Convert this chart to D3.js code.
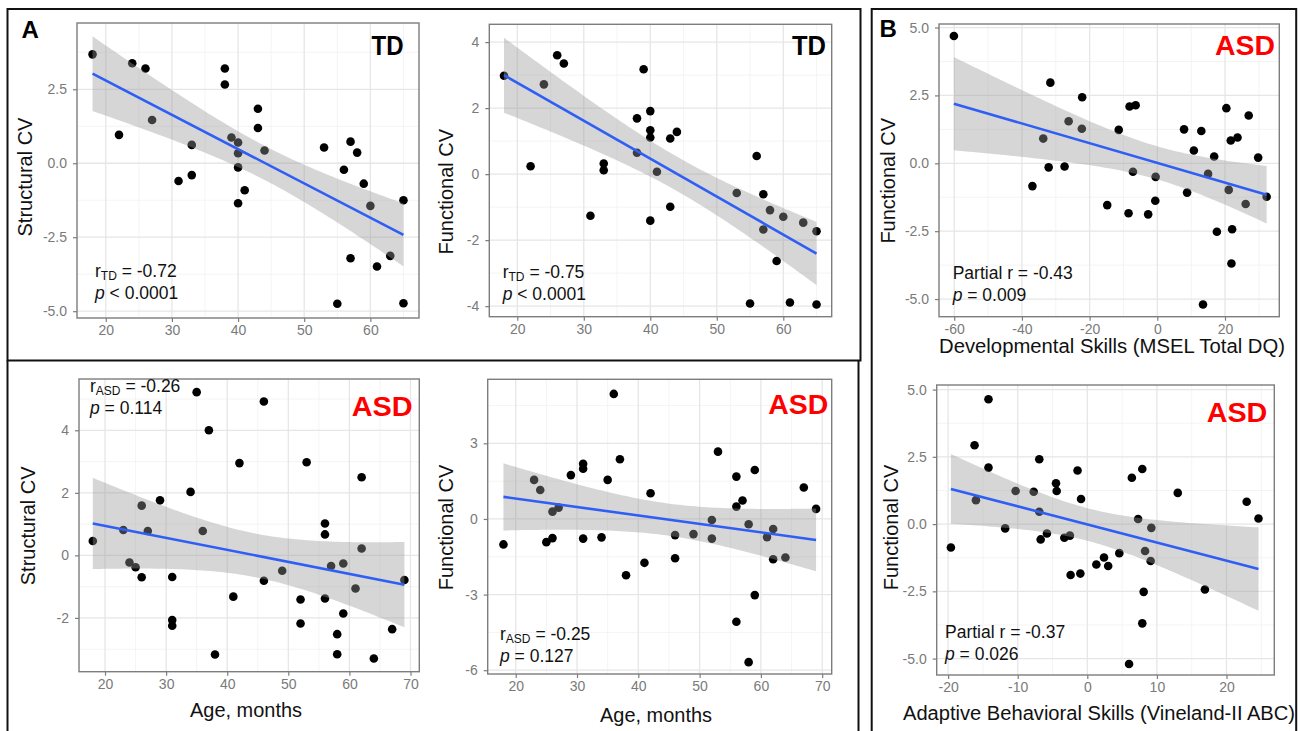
<!DOCTYPE html>
<html>
<head>
<meta charset="utf-8">
<script src="https://cdn.jsdelivr.net/npm/d3@7"></script>
<style>
  body { margin: 0; background: #fff; }
  svg { display: block; }
  text { font-family: "Liberation Sans", Arial, Helvetica, sans-serif; }
</style>
</head>
<body>
<div id="fig"></div>
<script>
// ---- data ----
// A, TD, structural CV vs age
const tdAgeS = [18,24,26,22,27,31,33,33,38,38,39,40,40,40,40,41,43,43,44,53,56,57,58,59,60,57,55,61,63,65,65];
const tdStructCV = [3.68,3.38,3.2,0.96,1.46,-0.6,0.62,-0.4,3.2,2.66,0.87,0.7,0.34,-0.14,-1.35,-0.91,1.84,1.19,0.43,0.53,-0.22,0.73,0.36,-0.69,-1.44,-3.21,-4.75,-3.49,-3.13,-1.25,-4.73];
// A, TD, functional CV vs age
const tdAgeF = [18,22,24,26,27,31,33,33,38,38,39,40,40,40,40,41,43,43,44,53,56,57,57,58,59,60,55,61,63,65,65];
const tdFuncCV = [2.98,0.24,2.72,3.6,3.35,-1.26,0.32,0.12,1.69,0.65,3.18,1.91,1.33,1.11,-1.41,0.07,1.08,-0.99,1.28,-0.57,0.55,-0.61,-1.68,-1.09,-2.63,-1.29,-3.92,-3.89,-1.47,-1.73,-3.95];
// A, ASD, structural CV vs age
const asdAgeS = [18,23,24,25,26,26,27,29,31,31,31,34,35,36,37,38,41,42,46,46,49,52,52,53,56,56,56,57,58,58,59,59,61,62,62,64,67,69];
const asdStructCV = [0.46,0.81,-0.23,-0.38,1.59,-0.7,0.78,1.76,-0.69,-2.07,-2.25,2.03,5.22,0.78,4.0,-3.17,-1.32,2.95,4.92,-0.81,-0.49,-1.41,-2.18,2.98,1.02,0.67,-1.38,-0.34,-2.52,-3.16,-0.26,-1.86,-1.06,2.5,0.22,-3.3,-2.36,-0.79];
// A, ASD, functional CV vs age
const asdAgeF = [18,23,24,25,26,26,27,29,31,31,31,34,35,36,37,38,41,42,46,46,49,52,52,53,56,56,57,58,56,58,59,59,61,62,62,64,67,69];
const asdFuncCV = [-1.01,1.55,1.15,-0.92,0.29,-0.76,0.45,1.74,2.19,1.99,-0.78,-0.73,1.55,4.96,2.37,-2.23,-1.74,1.02,-0.64,-1.56,-0.6,-0.04,-0.78,2.67,1.68,0.49,0.73,-0.21,-4.08,-5.68,1.94,-3.02,-0.72,-0.4,-1.6,-1.53,1.25,0.4];
// B, ASD, functional CV vs developmental skills (MSEL total DQ)
const mselDQ = [-60.1,-31.6,-33.7,-32.1,-36.9,-27.4,-26.2,-22.3,-22.2,-14.8,-11.4,-8.5,-8.2,-6.4,-7.2,-2.7,-0.6,-0.5,7.9,8.8,10.8,13.0,13.5,15.0,16.8,17.6,20.4,21.1,21.7,22.1,21.9,23.7,26.1,27.0,29.8,32.3];
const mselFuncCV = [4.69,2.97,0.91,-0.15,-0.84,-0.12,1.55,1.27,2.43,-1.54,1.23,-1.84,2.09,2.14,-0.31,-1.88,-1.38,-0.5,1.25,-1.08,0.47,1.19,-5.2,-0.39,0.25,-2.52,2.03,-0.98,0.84,-2.43,-3.69,0.95,-1.5,1.76,0.21,-1.23];
// B, ASD, functional CV vs adaptive behavioural skills (Vineland-II ABC)
const vinelandABC = [-19.6,-16.2,-16.0,-14.2,-14.2,-11.8,-10.3,-7.7,-6.9,-6.9,-6.7,-5.8,-4.5,-4.4,-3.3,-2.5,-2.4,-1.4,-1.0,-0.9,1.3,2.4,3.0,4.6,6.0,6.4,7.3,7.9,8.1,7.9,8.3,9.1,9.2,13.0,16.9,22.9,24.6];
const vinelandFuncCV = [-0.87,2.93,0.89,4.64,2.1,-0.16,1.23,1.2,2.41,0.46,-0.57,-0.35,1.52,1.23,-0.51,-0.43,-1.89,1.99,-1.84,0.93,-1.5,-1.24,-1.56,-1.08,-5.2,1.72,0.19,2.05,-2.52,-3.69,-1.0,-1.37,-0.14,1.16,-2.43,0.83,0.21];

// tick labels
const ageTicksTD = [20,30,40,50,60];
const ageTicksASD = [20,30,40,50,60,70];
const cvTicksHalf = [-5,-2.5,0,2.5];
const cvTicksTwo = [-4,-2,0,2,4];
const cvTicksASDs = [-2,0,2,4];
const cvTicksThree = [-6,-3,0,3];
const cvTicksFive = [-5,-2.5,0,2.5,5];
const dqTicks = [-60,-40,-20,0,20];
const abcTicks = [-20,-10,0,10,20];

const W = 1302, H = 731;
const svg = d3.select("#fig").append("svg").attr("width", W).attr("height", H);

// quantile of t distribution (Cornish-Fisher approximation, 97.5%)
function tq(df) { return 1.96 + 2.37 / df + 2.82 / (df * df); }

function lmFit(xs, ys) {
    const n = xs.length, mx = d3.mean(xs), my = d3.mean(ys);
    let sxx = 0, sxy = 0;
    xs.forEach((x, i) => { sxx += (x - mx) ** 2; sxy += (x - mx) * (ys[i] - my); });
    const b = sxy / sxx, a = my - b * mx;
    let sse = 0;
    xs.forEach((x, i) => { sse += (ys[i] - a - b * x) ** 2; });
    const s = Math.sqrt(sse / (n - 2)), t = tq(n - 2);
    return { pred: x => a + b * x, half: x => t * s * Math.sqrt(1 / n + (x - mx) ** 2 / sxx) };
}

function minorOf(ticks, dom) {
    const step = ticks[1] - ticks[0], out = [];
    ticks.forEach(t => [t - step / 2, t + step / 2].forEach(m => {
        if (m > dom[0] && m < dom[1] && !out.includes(m)) out.push(m);
    }));
    return out;
}

function statText(g, x, y, first, sub, rest, second) {
    const t1 = g.append("text").attr("x", x).attr("y", y).attr("font-size", 17.5).attr("fill", "#111");
    t1.append("tspan").text(first);
    if (sub) {
        t1.append("tspan").attr("font-size", 12).attr("dy", 3).text(sub);
        t1.append("tspan").attr("dy", -3).text(rest);
    }
    const t2 = g.append("text").attr("x", x).attr("y", y + 22).attr("font-size", 17.5).attr("fill", "#111");
    t2.append("tspan").attr("font-style", "italic").text("p");
    t2.append("tspan").text(second);
}

function drawPanel(c) {
    const g = svg.append("g");
    const x = d3.scaleLinear().domain(c.xDom).range([c.l, c.r]);
    const y = d3.scaleLinear().domain(c.yDom).range([c.b, c.t]);

    // grid
    const grid = g.append("g");
    minorOf(c.xTicks, c.xDom).forEach(v => grid.append("line")
        .attr("x1", x(v)).attr("x2", x(v)).attr("y1", c.t).attr("y2", c.b)
        .attr("stroke", "#f1f1f1").attr("stroke-width", 0.8));
    minorOf(c.yTicks, c.yDom).forEach(v => grid.append("line")
        .attr("y1", y(v)).attr("y2", y(v)).attr("x1", c.l).attr("x2", c.r)
        .attr("stroke", "#f1f1f1").attr("stroke-width", 0.8));
    c.xTicks.forEach(v => grid.append("line")
        .attr("x1", x(v)).attr("x2", x(v)).attr("y1", c.t).attr("y2", c.b)
        .attr("stroke", "#e6e6e6").attr("stroke-width", 1.3));
    c.yTicks.forEach(v => grid.append("line")
        .attr("y1", y(v)).attr("y2", y(v)).attr("x1", c.l).attr("x2", c.r)
        .attr("stroke", "#e6e6e6").attr("stroke-width", 1.3));

    // points (under the confidence band, as in ggplot)
    g.append("g").selectAll("circle")
        .data(c.xs.map((v, i) => [v, c.ys[i]]))
        .enter().append("circle")
        .attr("cx", d => x(d[0])).attr("cy", d => y(d[1]))
        .attr("r", 4.3).attr("fill", "#000");

    // lm fit + 95% band
    const f = lmFit(c.xs, c.ys);
    const ext = d3.extent(c.xs);
    const xsF = d3.range(0, 81).map(i => ext[0] + (ext[1] - ext[0]) * i / 80);
    g.append("path").datum(xsF)
        .attr("d", d3.area().x(v => x(v)).y0(v => y(f.pred(v) - f.half(v))).y1(v => y(f.pred(v) + f.half(v))))
        .attr("fill", "#999999").attr("fill-opacity", 0.4);
    g.append("path").datum(ext)
        .attr("d", d3.line().x(v => x(v)).y(v => y(f.pred(v))))
        .attr("stroke", "#2f5ef5").attr("stroke-width", 2.6).attr("fill", "none");

    // border
    g.append("rect").attr("x", c.l).attr("y", c.t).attr("width", c.r - c.l).attr("height", c.b - c.t)
        .attr("fill", "none").attr("stroke", "#7d7d7d").attr("stroke-width", 1.4);

    // axes
    const ax = g.append("g").attr("transform", `translate(0,${c.b})`)
        .call(d3.axisBottom(x).tickValues(c.xTicks).tickSize(4).tickPadding(3).tickFormat(d3.format("d")));
    const ay = g.append("g").attr("transform", `translate(${c.l},0)`)
        .call(d3.axisLeft(y).tickValues(c.yTicks).tickSize(4).tickPadding(6).tickFormat(d3.format(c.yFmt)));
    [ax, ay].forEach(a => {
        a.select(".domain").remove();
        a.selectAll("line").attr("stroke", "#7d7d7d").attr("stroke-width", 1.2);
        a.selectAll("text").attr("fill", "#7a7a7a").attr("font-size", 14)
            .attr("font-family", '"Liberation Sans", Arial, sans-serif');
    });
    ay.selectAll("text").text(d => d3.format(c.yFmt)(d).replace("\u2212", "-"));
    ax.selectAll("text").text(d => d3.format("d")(d).replace("\u2212", "-"));

    // titles
    g.append("text").attr("transform", `translate(${c.yTitle[1]},${c.yTitle[2]}) rotate(-90)`)
        .attr("text-anchor", "middle").attr("font-size", 20).attr("fill", "#111").text(c.yTitle[0]);
    if (c.xTitle) {
        g.append("text").attr("x", c.xTitle[1]).attr("y", c.xTitle[2]).attr("text-anchor", "middle")
            .attr("font-size", 20).attr("fill", "#111")
            .attr("textLength", c.xTitle[3]).attr("lengthAdjust", "spacingAndGlyphs").text(c.xTitle[0]);
    }

    // group tag
    g.append("text").attr("x", c.tag[1]).attr("y", c.tag[2]).attr("font-size", 28).attr("font-weight", "bold")
        .attr("fill", c.tag[0] === "ASD" ? "#ff0000" : "#000")
        .attr("textLength", c.tag[3]).attr("lengthAdjust", "spacingAndGlyphs").text(c.tag[0]);

    statText(g, c.stat[0], c.stat[1], c.stat[2], c.stat[3], c.stat[4], c.stat[5]);
}

const panels = [
    { xs: tdAgeS, ys: tdStructCV, l: 77, r: 419, t: 23, b: 318, xDom: [15.65, 67.35], yDom: [-5.23, 4.74],
      xTicks: ageTicksTD, yTicks: cvTicksHalf, yFmt: ".1f", yTitle: ["Structural CV", 32, 177],
      tag: ["TD", 371.5, 55, 32], stat: [95, 277, "r", "TD", " = -0.72", " < 0.0001"] },
    { xs: tdAgeF, ys: tdFuncCV, l: 489.3, r: 831.7, t: 24.3, b: 316.7, xDom: [15.79, 67.28], yDom: [-4.32, 4.54],
      xTicks: ageTicksTD, yTicks: cvTicksTwo, yFmt: "d", yTitle: ["Functional CV", 453, 191.7],
      tag: ["TD", 792, 55, 34], stat: [502.7, 278.3, "r", "TD", " = -0.75", " < 0.0001"] },
    { xs: mselDQ, ys: mselFuncCV, l: 939, r: 1279.3, t: 24, b: 316.7, xDom: [-64.5, 36.04], yDom: [-5.65, 5.13],
      xTicks: dqTicks, yTicks: cvTicksFive, yFmt: ".1f", yTitle: ["Functional CV", 895, 180.8],
      xTitle: ["Developmental Skills (MSEL Total DQ)", 1112, 353, 346],
      tag: ["ASD", 1215, 55, 60], stat: [952.7, 279.3, "Partial r = -0.43", null, null, " = 0.009"] },
    { xs: asdAgeS, ys: asdStructCV, l: 79, r: 419.3, t: 379, b: 671.7, xDom: [15.74, 71.44], yDom: [-3.72, 5.64],
      xTicks: ageTicksASD, yTicks: cvTicksASDs, yFmt: "d", yTitle: ["Structural CV", 35, 525.8],
      xTitle: ["Age, months", 246, 716.7, 112],
      tag: ["ASD", 351.7, 415.7, 61], stat: [90, 391.7, "r", "ASD", " = -0.26", " = 0.114"] },
    { xs: asdAgeF, ys: asdFuncCV, l: 487.7, r: 831.7, t: 379.3, b: 674, xDom: [15.43, 71.55], yDom: [-6.15, 5.54],
      xTicks: ageTicksASD, yTicks: cvTicksThree, yFmt: "d", yTitle: ["Functional CV", 453, 527.5],
      xTitle: ["Age, months", 656, 721.7, 112],
      tag: ["ASD", 768.3, 414.3, 60], stat: [500, 640, "r", "ASD", " = -0.25", " = 0.127"] },
    { xs: vinelandABC, ys: vinelandFuncCV, l: 936.7, r: 1274.3, t: 385, b: 675, xDom: [-21.64, 26.87], yDom: [-5.61, 5.17],
      xTicks: abcTicks, yTicks: cvTicksFive, yFmt: ".1f", yTitle: ["Functional CV", 898, 527.5],
      xTitle: ["Adaptive Behavioral Skills (Vineland-II ABC)", 1099, 720, 392],
      tag: ["ASD", 1206.7, 421.7, 60.6], stat: [945, 638.3, "Partial r = -0.37", null, null, " = 0.026"] }
];
panels.forEach(drawPanel);

// outer frames
svg.append("rect").attr("x", 7.5).attr("y", 9).attr("width", 853).attr("height", 351.5)
    .attr("fill", "none").attr("stroke", "#111").attr("stroke-width", 2);
svg.append("path").attr("d", "M7.5,360.5 V740 M858.5,360.5 V740")
    .attr("fill", "none").attr("stroke", "#111").attr("stroke-width", 2);
svg.append("rect").attr("x", 871.7).attr("y", 9).attr("width", 424.5).attr("height", 740)
    .attr("fill", "none").attr("stroke", "#111").attr("stroke-width", 2);

// panel letters
svg.append("text").attr("x", 21.5).attr("y", 38.3).attr("font-size", 24).attr("font-weight", "bold").text("A");
svg.append("text").attr("x", 879.5).attr("y", 37.3).attr("font-size", 24).attr("font-weight", "bold").text("B");
</script>
</body>
</html>
